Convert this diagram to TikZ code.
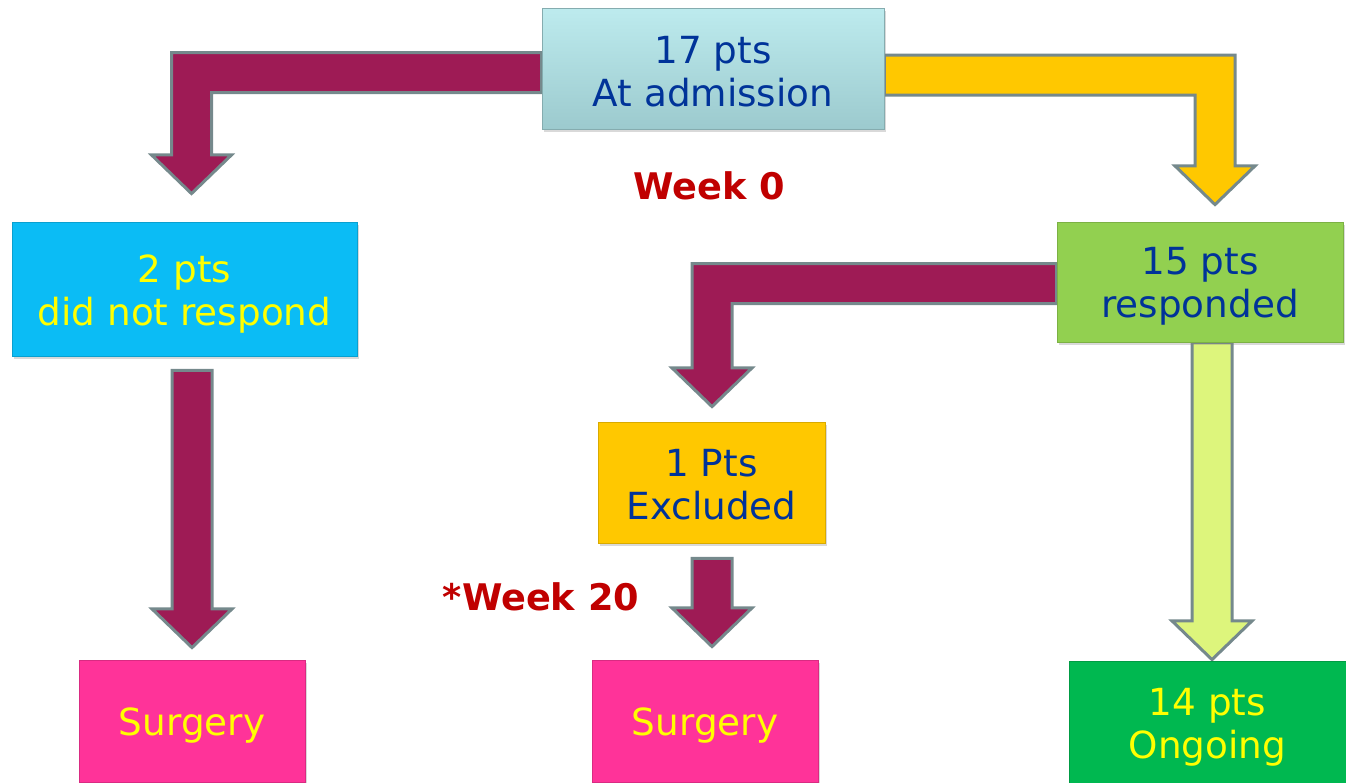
\documentclass[tikz,border=0pt]{standalone}
\usepackage{fontspec}
\setmainfont{DejaVu Sans}
\usetikzlibrary{calc,shadows}
\pgfdeclarelayer{bg}
\pgfsetlayers{bg,main}
\definecolor{cTopA}{HTML}{BDEBEE}
\definecolor{cTopB}{HTML}{9CCACE}
\definecolor{cCyan}{HTML}{0BBCF5}
\definecolor{cResp}{HTML}{92D050}
\definecolor{cExcl}{HTML}{FFC800}
\definecolor{cSurg}{HTML}{FF3399}
\definecolor{cOngo}{HTML}{00B850}
\definecolor{cBlue}{HTML}{003399}
\definecolor{cYel}{HTML}{FFFF00}
\definecolor{cRed}{HTML}{C00000}
\definecolor{cMaroon}{HTML}{9E1B55}
\definecolor{cGold}{HTML}{FFC800}
\definecolor{cLime}{HTML}{DDF57C}
\definecolor{cEdge}{HTML}{75898C}
\def\px{0.75pt}
\newcommand\sh[1]{\rule{0pt}{#1}}
\newcommand\myElbowL[3]{\path[#1] let \p1=#2, \p2=#3 in
  (\x1,\y1+15pt) -- (\x2-15pt,\y1+15pt) -- (\x2-15pt,\y2+29pt) -- (\x2-30pt,\y2+29pt)
  -- (\x2,\y2) -- (\x2+30pt,\y2+29pt) -- (\x2+15pt,\y2+29pt) -- (\x2+15pt,\y1-15pt)
  -- (\x1,\y1-15pt) -- cycle;}
\newcommand\myElbowR[3]{\path[#1] let \p1=#2, \p2=#3 in
  (\x1,\y1+15pt) -- (\x2+15pt,\y1+15pt) -- (\x2+15pt,\y2+29pt) -- (\x2+30pt,\y2+29pt)
  -- (\x2,\y2) -- (\x2-30pt,\y2+29pt) -- (\x2-15pt,\y2+29pt) -- (\x2-15pt,\y1-15pt)
  -- (\x1,\y1-15pt) -- cycle;}
\newcommand\myDown[3]{\path[#1] let \p1=#2, \p2=#3 in
  (\x1-15pt,\y1) -- (\x1-15pt,\y2+29pt) -- (\x1-30pt,\y2+29pt) -- (\x1,\y2)
  -- (\x1+30pt,\y2+29pt) -- (\x1+15pt,\y2+29pt) -- (\x1+15pt,\y1) -- cycle;}
\begin{document}
\begin{tikzpicture}[x=0.75pt,y=-0.75pt,
  box/.style={rectangle, draw=#1!85!black, line width=0.6pt, fill=#1, align=center,
    font=\fontsize{28}{32.5}\selectfont, inner sep=0pt,
    drop shadow={opacity=0.3,shadow xshift=1.5pt,shadow yshift=-2pt}},
  week/.style={text=cRed, font=\bfseries\fontsize{27.5}{32.5}\selectfont},
  blockarrow/.style={fill=#1, draw=cEdge, line width=2.25pt, line join=miter}]
\useasboundingbox (0,0) rectangle (1346,782);

\node[box=cTopB, top color=cTopA, bottom color=cTopB, text=cBlue,
  minimum width=342*\px, minimum height=121*\px] (top) at (713,68.5) {\sh{25.6pt}17 pts\\At admission};
\node[box=cCyan, text=cYel, minimum width=345*\px, minimum height=134*\px] (dnr) at (184.5,289) {\sh{27.9pt}2 pts\\did not respond};
\node[box=cResp, text=cBlue, minimum width=286*\px, minimum height=120*\px] (resp) at (1200,282) {\sh{26.4pt}15 pts\\responded};
\node[box=cExcl, text=cBlue, minimum width=227*\px, minimum height=121*\px] (excl) at (711.5,482.5) {\sh{23.4pt}1 Pts\\Excluded};
\node[box=cSurg, text=cYel, minimum width=226*\px, minimum height=122*\px] (surg1) at (192,721) {\sh{27.5pt}Surgery};
\node[box=cSurg, text=cYel, minimum width=226*\px, minimum height=122*\px] (surg2) at (705,721) {\sh{27.5pt}Surgery};
\node[box=cOngo, text=cYel, minimum width=277*\px, minimum height=122*\px] (ongo) at (1207.5,722) {\sh{27.9pt}14 pts\\Ongoing};

\node[week] (w0) at (709,186) {Week 0};
\node[week] (w20) at (541,597) {*Week 20};

\begin{pgfonlayer}{bg}
\myElbowL{blockarrow=cMaroon}{($(top.west)+(0,4)$)}{($(dnr.north)+(7,-28)$)}
\myElbowR{blockarrow=cGold}{($(top.east)+(0,6.5)$)}{($(resp.north)+(15,-17)$)}
\myElbowL{blockarrow=cMaroon}{($(resp.west)+(0,1.5)$)}{($(excl.north)+(0.5,-15)$)}
\myDown{blockarrow=cLime}{($(resp.south)+(12,0)$)}{($(ongo.north)+(0,-1)$)}
\myDown{blockarrow=cMaroon}{($(dnr.south)+(7.5,14)$)}{($(surg1.north)+(0,-12)$)}
\myDown{blockarrow=cMaroon}{($(excl.south)+(0.5,15)$)}{($(surg2.north)+(0,-13)$)}
\end{pgfonlayer}
\end{tikzpicture}
\end{document}
